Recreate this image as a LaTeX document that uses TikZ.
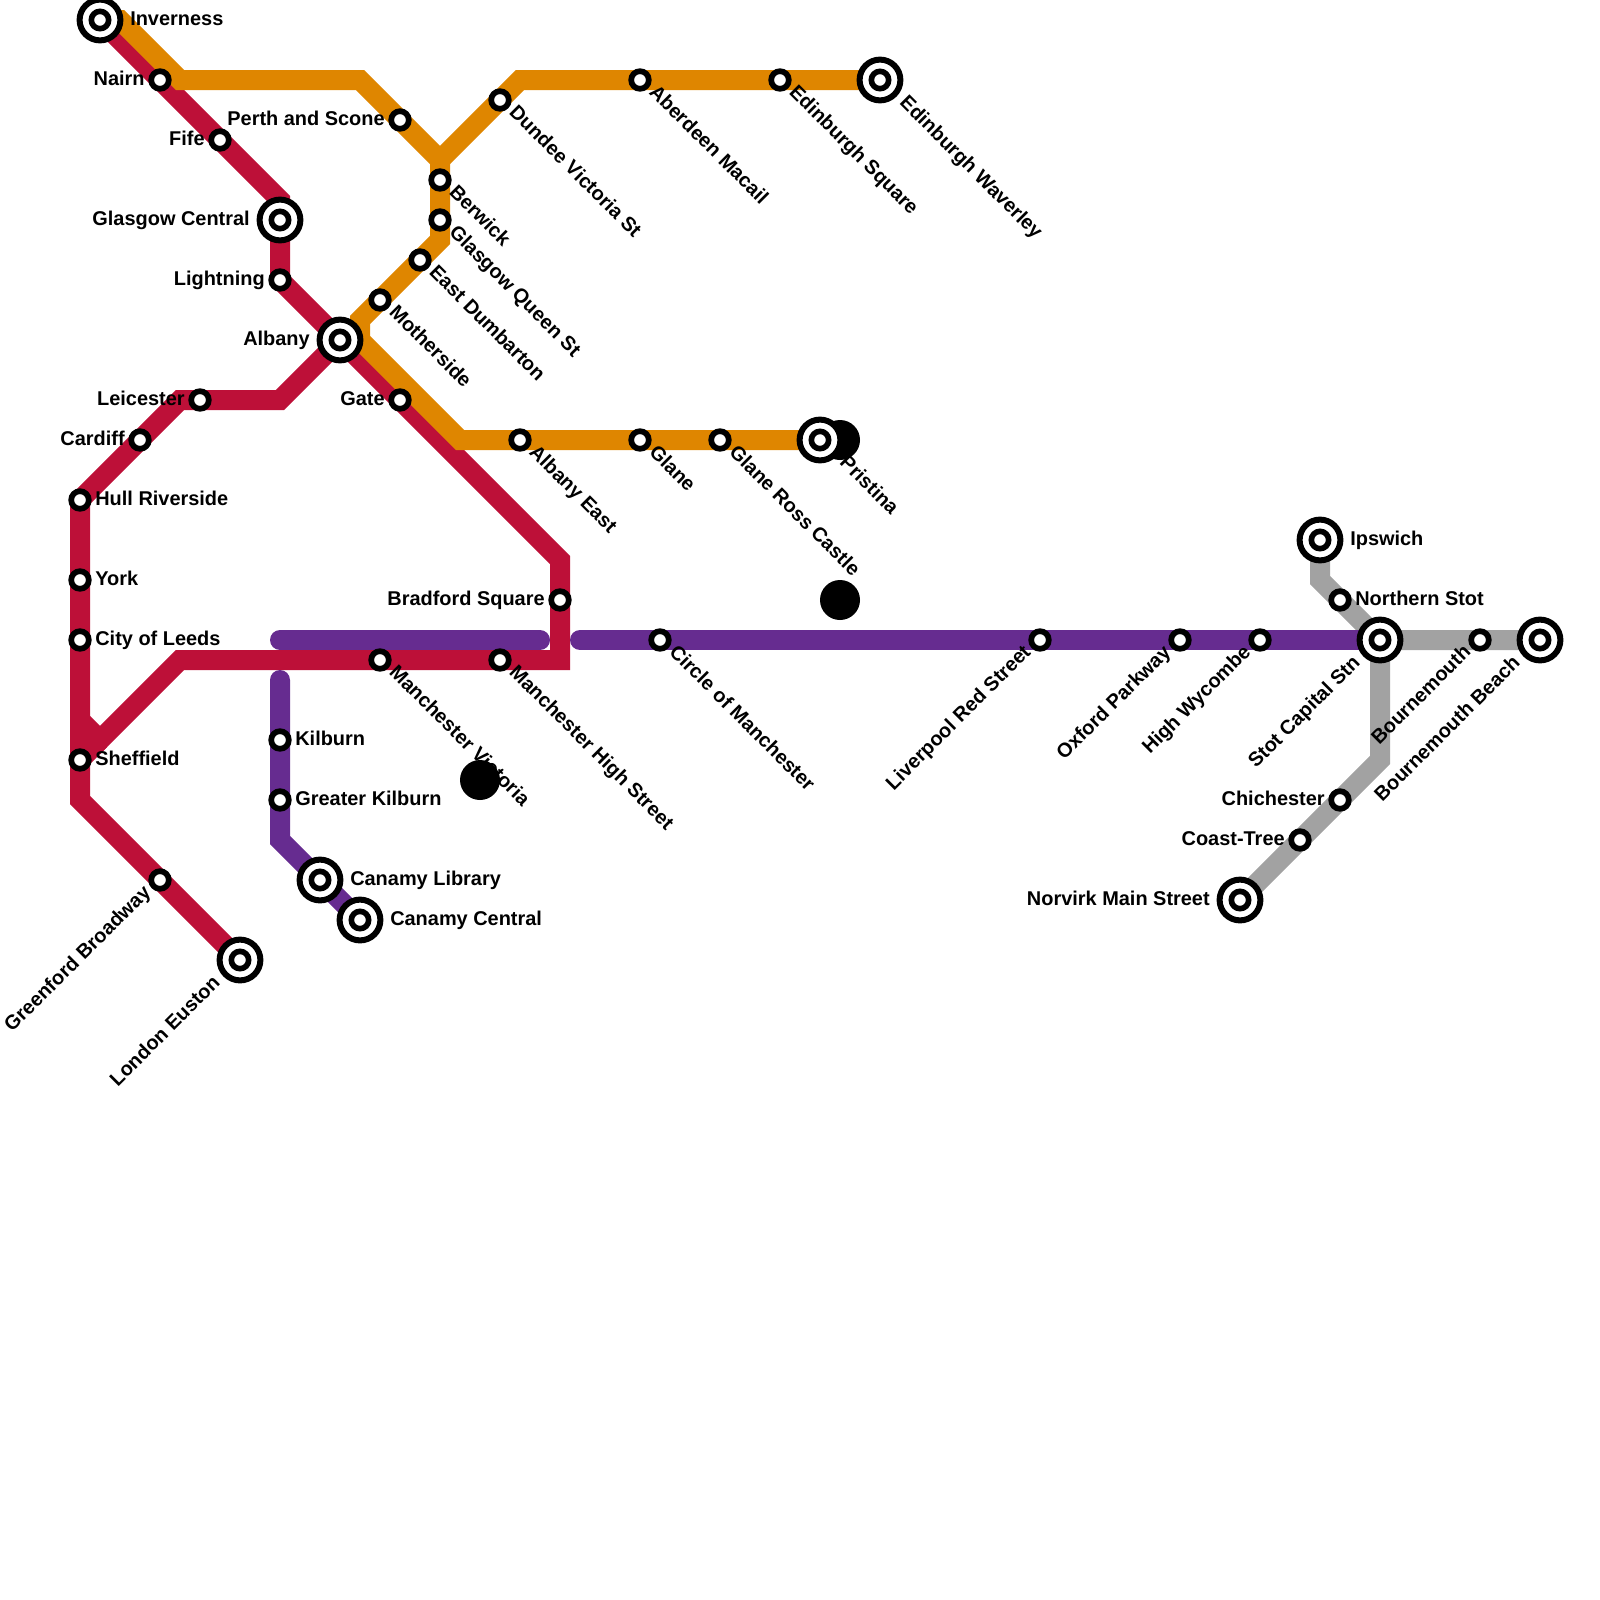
\documentclass[tikz,border=0pt]{standalone}
\usepackage{xcolor}
\usepackage{fontspec}
\setmainfont{Liberation Sans}
\usetikzlibrary{backgrounds}
\definecolor{linered}{HTML}{BD1038}
\definecolor{lineorange}{HTML}{DF8600}
\definecolor{linepurple}{HTML}{662C90}
\definecolor{linegray}{HTML}{A2A2A2}
\begin{document}
\begin{tikzpicture}[
    x=15pt, y=-15pt,
    station/.style={circle, draw=black, fill=white, line width=4.3pt,
        minimum size=13.2pt, inner sep=0pt},
    hub/.style={circle, draw=black, fill=white, line width=4.5pt,
        minimum size=30.6pt, inner sep=0pt,
        path picture={\draw[line width=4.2pt] (path picture bounding box.center) circle (6.5pt);}},
    blob/.style={circle, fill=black, minimum size=30pt, inner sep=0pt},
    metro/.style={line width=15pt, miter limit=10, line join=miter},
    lbl/.style={font=\bfseries\fontsize{14.95}{18}\selectfont, inner sep=0pt, text=black},
    lbleast/.style={lbl, anchor=mid west, xshift=#1, yshift=-1.5pt},
    lbleast/.default=11.3pt,
    lblwest/.style={lbl, anchor=mid east, xshift=-#1, yshift=-1.5pt},
    lblwest/.default=11.3pt,
    lblse/.style={lbl, anchor=mid west, rotate=-45, xshift=#1},
    lblse/.default=11.3pt,
    lblsw/.style={lbl, anchor=mid east, rotate=45, xshift=-#1},
    lblsw/.default=11.3pt,
]
\useasboundingbox (0,0) rectangle (80,80);

%% ========== BLACK DOTS ==========
\node[blob] (blobvic) at (24,39) {};
\node[blob] (blobpri) at (42,22) {};
\node[blob] (blobgla) at (42,30) {};

%% ========== RED LINE STATIONS ==========
\node[hub] (inverness) at (5,1) {};
\node[station] (nairn) at (8,4) {};
\node[station] (fife) at (11,7) {};
\node[hub] (glasgowcentral) at (14,11) {};
\node[station] (lightning) at (14,14) {};
\node[hub] (albany) at (17,17) {};
\node[station] (gate) at (20,20) {};
\node[station] (bradford) at (28,30) {};
\node[station] (manhigh) at (25,33) {};
\node[station] (manvic) at (19,33) {};
\node[station] (leicester) at (10,20) {};
\node[station] (cardiff) at (7,22) {};
\node[station] (hull) at (4,25) {};
\node[station] (york) at (4,29) {};
\node[station] (leeds) at (4,32) {};
\node[station] (sheffield) at (4,38) {};
\node[station] (greenford) at (8,44) {};
\node[hub] (euston) at (12,48) {};

%% ========== ORANGE LINE STATIONS ==========
\node[station] (perth) at (20,6) {};
\node[station] (dundee) at (25,5) {};
\node[station] (aberdeen) at (32,4) {};
\node[station] (edinsquare) at (39,4) {};
\node[hub] (waverley) at (44,4) {};
\node[station] (berwick) at (22,9) {};
\node[station] (queenst) at (22,11) {};
\node[station] (dumbarton) at (21,13) {};
\node[station] (motherside) at (19,15) {};
\node[station] (albanyeast) at (26,22) {};
\node[station] (glane) at (32,22) {};
\node[station] (rosscastle) at (36,22) {};
\node[hub] (pristina) at (41,22) {};

%% ========== PURPLE LINE STATIONS ==========
\node[station] (kilburn) at (14,37) {};
\node[station] (greaterkilburn) at (14,40) {};
\node[hub] (canamylib) at (16,44) {};
\node[hub] (canamycen) at (18,46) {};
\node[station] (circleman) at (33,32) {};
\node[station] (liverpool) at (52,32) {};
\node[station] (oxford) at (59,32) {};
\node[station] (wycombe) at (63,32) {};

%% ========== GRAY LINE STATIONS ==========
\node[hub] (ipswich) at (66,27) {};
\node[station] (northstot) at (67,30) {};
\node[hub] (stot) at (69,32) {};
\node[station] (bournemouth) at (74,32) {};
\node[hub] (bournebeach) at (77,32) {};
\node[station] (chichester) at (67,40) {};
\node[station] (coasttree) at (65,42) {};
\node[hub] (norvirk) at (62,45) {};

%% ========== BENDS ==========
\coordinate (redA) at (14,10);
\coordinate (redB) at (28,28);
\coordinate (redC) at (28,33);
\coordinate (redD) at (9,33);
\coordinate (redE) at (5,37);
\coordinate (redF) at (4,36);
\coordinate (redG) at (14,20);
\coordinate (redH) at (9,20);
\coordinate (redJ) at (4,40);
\coordinate (orgA) at (6,1);
\coordinate (orgB) at (9,4);
\coordinate (orgC) at (18,4);
\coordinate (orgD) at (22,8);
\coordinate (orgE) at (26,4);
\coordinate (orgF) at (22,12);
\coordinate (orgG) at (18,16);
\coordinate (orgH) at (18,17);
\coordinate (orgJ) at (23,22);
\coordinate (purA) at (14,32);
\coordinate (purB) at (27,32);
\coordinate (purC) at (29,32);
\coordinate (purD) at (14,34);
\coordinate (purE) at (14,42);
\coordinate (gryA) at (66,29);
\coordinate (gryB) at (69,38);

%% ========== LINES ==========
\begin{scope}[on background layer]
\draw[metro, linered] (inverness.center) -- (redA) -- (lightning.center) -- (redB) -- (redC) -- (redD) -- (redE) -- (redF);
\draw[metro, linered] (redE) -- (sheffield.center);
\draw[metro, linered] (albany.center) -- (redG) -- (redH) -- (hull.center) -- (redJ) -- (euston.center);
\draw[metro, lineorange] (inverness.center) -- (orgA) -- (orgB) -- (orgC) -- (orgD) -- (orgE) -- (waverley.center);
\draw[metro, lineorange] (orgD) -- (orgF) -- (orgG) -- (orgH) -- (orgJ) -- (pristina.center);
\draw[metro, linegray] (ipswich.center) -- (gryA) -- (stot.center) -- (bournebeach.center);
\draw[metro, linegray] (stot.center) -- (gryB) -- (norvirk.center);
\draw[metro, linepurple, line cap=round] (purA) -- (purB);
\draw[metro, linepurple, line cap=round] (purC) -- (stot.center);
\draw[metro, linepurple, line cap=round] (purD) -- (purE) -- (canamycen.center);
\end{scope}

%% ========== LABELS ==========
\node[lbleast=22.5pt] (invernesslbl) at (inverness) {Inverness};
\node[lblwest] (nairnlbl) at (nairn) {Nairn};
\node[lblwest] (fifelbl) at (fife) {Fife};
\node[lblwest=22.5pt] (glasgowcentrallbl) at (glasgowcentral) {Glasgow Central};
\node[lblwest] (lightninglbl) at (lightning) {Lightning};
\node[lblwest=22.5pt] (albanylbl) at (albany) {Albany};
\node[lblwest] (gatelbl) at (gate) {Gate};
\node[lblwest] (bradfordlbl) at (bradford) {Bradford Square};
\node[lblse] (manhighlbl) at (manhigh) {Manchester High Street};
\node[lblse] (manviclbl) at (manvic) {Manchester Victoria};
\node[lblwest] (leicesterlbl) at (leicester) {Leicester};
\node[lblwest] (cardifflbl) at (cardiff) {Cardiff};
\node[lbleast] (hulllbl) at (hull) {Hull Riverside};
\node[lbleast] (yorklbl) at (york) {York};
\node[lbleast] (leedslbl) at (leeds) {City of Leeds};
\node[lbleast] (sheffieldlbl) at (sheffield) {Sheffield};
\node[lblsw] (greenfordlbl) at (greenford) {Greenford Broadway};
\node[lblsw=22.5pt] (eustonlbl) at (euston) {London Euston};

\node[lblwest] (perthlbl) at (perth) {Perth and Scone};
\node[lblse] (dundeelbl) at (dundee) {Dundee Victoria St};
\node[lblse] (aberdeenlbl) at (aberdeen) {Aberdeen Macail};
\node[lblse] (edinsquarelbl) at (edinsquare) {Edinburgh Square};
\node[lblse=22.5pt] (waverleylbl) at (waverley) {Edinburgh Waverley};
\node[lblse] (berwicklbl) at (berwick) {Berwick};
\node[lblse] (queenstlbl) at (queenst) {Glasgow Queen St};
\node[lblse] (dumbartonlbl) at (dumbarton) {East Dumbarton};
\node[lblse] (mothersidelbl) at (motherside) {Motherside};
\node[lblse] (albanyeastlbl) at (albanyeast) {Albany East};
\node[lblse] (glanelbl) at (glane) {Glane};
\node[lblse] (rosscastlelbl) at (rosscastle) {Glane Ross Castle};
\node[lblse=22.5pt] (pristinalbl) at (pristina) {Pristina};

\node[lbleast] (kilburnlbl) at (kilburn) {Kilburn};
\node[lbleast] (greaterkilburnlbl) at (greaterkilburn) {Greater Kilburn};
\node[lbleast=22.5pt] (canamyliblbl) at (canamylib) {Canamy Library};
\node[lbleast=22.5pt] (canamycenlbl) at (canamycen) {Canamy Central};
\node[lblse] (circlemanlbl) at (circleman) {Circle of Manchester};
\node[lblsw] (liverpoollbl) at (liverpool) {Liverpool Red Street};
\node[lblsw] (oxfordlbl) at (oxford) {Oxford Parkway};
\node[lblsw] (wycombelbl) at (wycombe) {High Wycombe};

\node[lbleast=22.5pt] (ipswichlbl) at (ipswich) {Ipswich};
\node[lbleast] (northstotlbl) at (northstot) {Northern Stot};
\node[lblsw=22.5pt] (stotlbl) at (stot) {Stot Capital Stn};
\node[lblsw] (bournemouthlbl) at (bournemouth) {Bournemouth};
\node[lblsw=22.5pt] (bournebeachlbl) at (bournebeach) {Bournemouth Beach};
\node[lblwest] (chichesterlbl) at (chichester) {Chichester};
\node[lblwest] (coasttreelbl) at (coasttree) {Coast-Tree};
\node[lblwest=22.5pt] (norvirklbl) at (norvirk) {Norvirk Main Street};
\end{tikzpicture}
\end{document}
